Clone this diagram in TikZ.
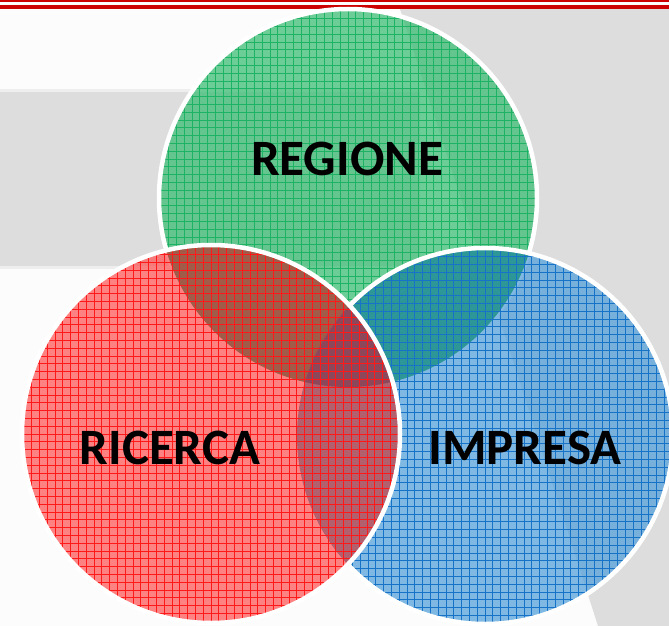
\documentclass[tikz,border=0pt]{standalone}
\usepackage{fontspec}
\setmainfont{Carlito}
\definecolor{bgw}{RGB}{252,252,252}
\definecolor{bgg}{RGB}{221,221,221}
\definecolor{bgl}{RGB}{238,238,238}
\definecolor{topred}{RGB}{204,0,0}
\definecolor{gfill}{RGB}{62,190,118}
\definecolor{gline}{RGB}{30,178,100}
\definecolor{rfill}{RGB}{255,90,90}
\definecolor{rline}{RGB}{255,25,25}
\definecolor{bfill}{RGB}{86,162,218}
\definecolor{bline}{RGB}{22,115,200}
\definecolor{gbmix}{RGB}{45,150,150}
\definecolor{grmix}{RGB}{160,92,72}
\definecolor{rbmix}{RGB}{178,95,110}
\definecolor{allmix}{RGB}{140,72,90}
\tikzset{
  rim/.style={draw=white, line width=4.5pt},
  gridline/.style={line width=0.65pt},
  discfill/.style={fill=#1, fill opacity=0.75},
  venntext/.style={anchor=base, inner sep=0pt, text=black,
    font=\fontsize{51}{60}\selectfont\bfseries}
}
\newcommand\gridlines[4]{%
  \foreach \k in {-25,...,25} {
    \draw[#4, gridline] ({#1+\k*7.8},{#2-#3}) -- ({#1+\k*7.8},{#2+#3});
    \draw[#4, gridline] ({#1-#3},{#2+\k*7.8}) -- ({#1+#3},{#2+\k*7.8});
  }%
}
\begin{document}
\begin{tikzpicture}[x=1pt,y=-1pt]
  \useasboundingbox (0,0) rectangle (669,626);
  % background
  \fill[bgw] (0,0) rectangle (669,626);
  \fill[bgl] (0,89) rectangle (420,269);
  \fill[bgg] (0,92) rectangle (420,266);
  \fill[bgg] (400,9) -- (669,9) -- (669,626) -- (598,626) -- cycle;
  % top rules
  \fill[topred] (0,0) rectangle (669,2);
  \fill[topred] (0,5.3) rectangle (669,9);
  % centres
  \coordinate (gc) at (348,198);
  \coordinate (bc) at (485,436);
  \coordinate (rc) at (211,434);
  % green disc
  \path[discfill=gfill] (gc) circle[radius=189pt];
  \begin{scope}
    \clip (gc) circle[radius=189pt];
    \gridlines{348}{198}{189}{gline}
  \end{scope}
  \draw[rim] (gc) circle[radius=189pt];
  % blue disc
  \path[discfill=bfill] (bc) circle[radius=188pt];
  \begin{scope}
    \clip (bc) circle[radius=188pt];
    \fill[gbmix] (gc) circle[radius=189pt];
    \gridlines{485}{436}{188}{bline}
  \end{scope}
  \draw[rim] (bc) circle[radius=188pt];
  % red disc
  \path[discfill=rfill] (rc) circle[radius=189pt];
  \begin{scope}
    \clip (rc) circle[radius=189pt];
    \fill[grmix] (gc) circle[radius=189pt];
    \fill[rbmix] (bc) circle[radius=188pt];
    \begin{scope}
      \clip (gc) circle[radius=189pt];
      \fill[allmix] (bc) circle[radius=188pt];
    \end{scope}
    \gridlines{211}{434}{189}{rline}
  \end{scope}
  \draw[rim] (rc) circle[radius=189pt];
  % labels
  \node[venntext] (regione) at (347,175) {REGIONE};
  \node[venntext] (ricerca) at (170,464) {RICERCA};
  \node[venntext] (impresa) at (525,464) {IMPRESA};
\end{tikzpicture}
\end{document}
